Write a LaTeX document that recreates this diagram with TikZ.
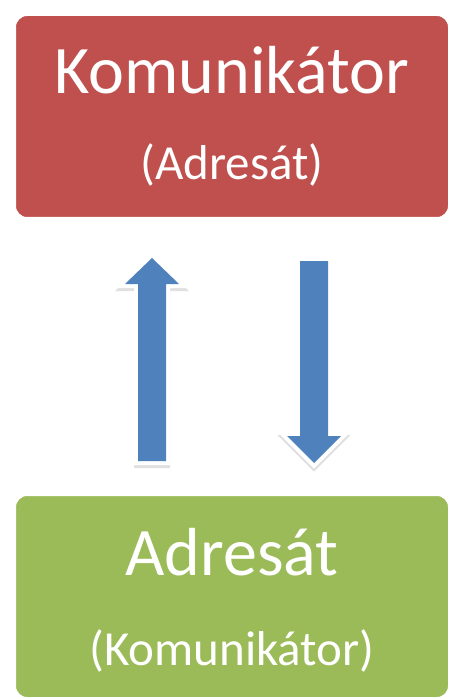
\documentclass[tikz,border=0pt]{standalone}
\usepackage{fontspec}
\setmainfont{Carlito}
\usetikzlibrary{shadows}
\definecolor{boxred}{HTML}{C0504D}
\definecolor{boxgreen}{HTML}{9BBB59}
\definecolor{arrowblue}{HTML}{4F81BD}
\tikzset{
  box/.style={draw=white, line width=6pt, rounded corners=14pt,
    minimum width=438pt, minimum height=207pt, inner sep=0pt,
    drop shadow={opacity=0.22, shadow xshift=0pt, shadow yshift=-3pt}},
  bigtxt/.style={text=white, font=\fontsize{68}{68}\selectfont, anchor=base, inner sep=0pt},
  smalltxt/.style={text=white, font=\fontsize{49}{49}\selectfont, anchor=base, inner sep=0pt},
  blockarrow/.style={fill=arrowblue,
    preaction={fill=black, draw=black, opacity=0.12, line width=8pt, line join=miter, transform canvas={shift={(0pt,-3pt)}}},
    preaction={draw=white, line width=8pt, line join=miter}}
}
\begin{document}
\begin{tikzpicture}[x=1pt,y=-1pt]
\useasboundingbox (0,0) rectangle (454,700);
\node[box, fill=boxred] (komunikator) at (232,116.5) {};
\node[box, fill=boxgreen] (adresat) at (232,596.5) {};
\node[bigtxt] (t1) at (232,94) {Komunikátor};
\node[smalltxt] (t2) at (232,180) {(Adresát)};
\node[bigtxt] (t3) at (232,575) {Adresát};
\node[smalltxt] (t4) at (232,665) {(Komunikátor)};
% up arrow
\path[blockarrow] (152,258) -- (179,284) -- (166,284) -- (166,461) -- (138,461) -- (138,284) -- (125,284) -- cycle;
% down arrow
\path[blockarrow] (314,463) -- (341,436) -- (328,436) -- (328,261) -- (300,261) -- (300,436) -- (287,436) -- cycle;
\end{tikzpicture}
\end{document}
